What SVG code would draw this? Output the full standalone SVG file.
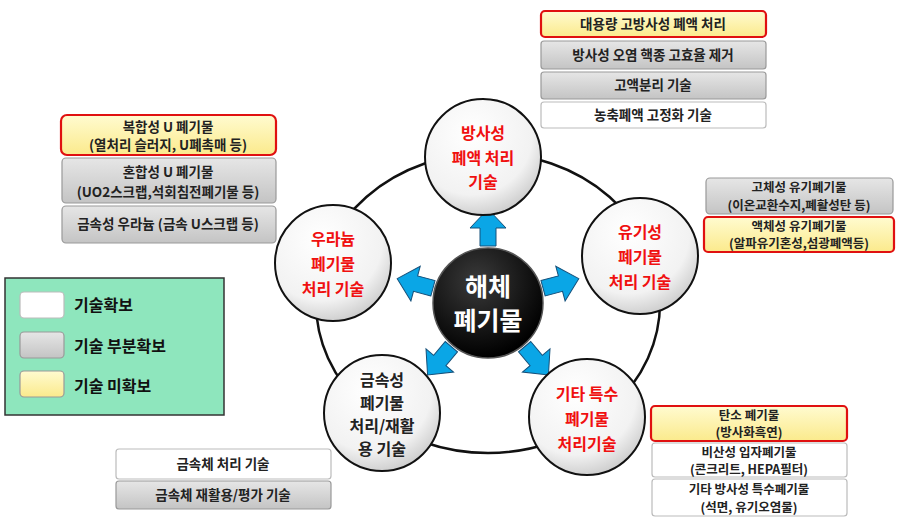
<svg xmlns="http://www.w3.org/2000/svg" width="900" height="524" viewBox="0 0 900 524">
<defs>
<radialGradient id="g" cx="40%" cy="30%" r="75%"><stop offset="0" stop-color="#ffffff"/><stop offset="0.7" stop-color="#f2f2f2"/><stop offset="1" stop-color="#c8c8c8"/></radialGradient>
<radialGradient id="b" cx="40%" cy="30%" r="70%"><stop offset="0" stop-color="#3a3a3a"/><stop offset="1" stop-color="#000"/></radialGradient>
<linearGradient id="gy" x1="0" y1="0" x2="0" y2="1"><stop offset="0" stop-color="#e6e6e6"/><stop offset="1" stop-color="#c4c4c4"/></linearGradient>
<linearGradient id="yl" x1="0" y1="0" x2="0" y2="1"><stop offset="0" stop-color="#fffbd0"/><stop offset="1" stop-color="#fbea8c"/></linearGradient>
<path id="arr" d="M-8,-57 L-8,-75 L-18,-75 L0,-94 L18,-75 L8,-75 L8,-57 Z"/>
</defs>
<style>
.t{font-family:"Noto Sans CJK KR","Noto Sans",sans-serif;font-weight:bold;font-size:13.5px;fill:#222;text-anchor:middle}
.s{font-size:12.5px}
.n{font-family:"Noto Sans CJK KR","Noto Sans",sans-serif;font-weight:bold;font-size:16px;fill:#f01010;text-anchor:middle}
.w{fill:#fff;stroke:#bbb;stroke-width:1.2}
.gr{fill:url(#gy);stroke:#999;stroke-width:1.2}
.y{fill:url(#yl);stroke:#e01010;stroke-width:2.2}
.c{fill:url(#g);stroke:#111;stroke-width:2}
.a{fill:#0aa6e6;stroke:#15507a;stroke-width:1}
.l{font-family:"Noto Sans CJK KR","Noto Sans",sans-serif;font-weight:bold;font-size:16px;fill:#111}
</style>
<rect width="900" height="524" fill="#fff"/>
<g id="connectors">
<ellipse cx="488" cy="303" rx="172" ry="150" fill="none" stroke="#111" stroke-width="2.5"/>
<g class="a" transform="translate(488,303)">
<use href="#arr"/>
<use href="#arr" transform="rotate(75)"/>
<use href="#arr" transform="rotate(-75)"/>
<use href="#arr" transform="rotate(140)"/>
<use href="#arr" transform="rotate(-140)"/>
</g>
</g>
<g id="center"><circle cx="488" cy="303" r="55" fill="url(#b)" stroke="#555" stroke-width="1.5"/>
<text x="488" y="296" style="font-family:'Noto Sans CJK KR',sans-serif;font-weight:bold;font-size:25px;fill:#fff;text-anchor:middle">해체</text>
<text x="488" y="330" style="font-family:'Noto Sans CJK KR',sans-serif;font-weight:bold;font-size:25px;fill:#fff;text-anchor:middle">폐기물</text></g>
<g id="n-top"><circle class="c" cx="483" cy="157" r="58"/>
<text class="n" x="483" y="139">방사성</text><text class="n" x="483" y="164">폐액 처리</text><text class="n" x="483" y="188">기술</text></g>
<g id="n-left"><circle class="c" cx="333" cy="263" r="58"/>
<text class="n" x="333" y="245">우라늄</text><text class="n" x="333" y="270">폐기물</text><text class="n" x="333" y="295">처리 기술</text></g>
<g id="n-right"><circle class="c" cx="640" cy="256" r="58"/>
<text class="n" x="640" y="238">유기성</text><text class="n" x="640" y="263">폐기물</text><text class="n" x="640" y="288">처리 기술</text></g>
<g id="n-bl"><circle class="c" cx="382" cy="413" r="58"/>
<text class="n" x="382" y="386" style="fill:#222">금속성</text><text class="n" x="382" y="409" style="fill:#222">폐기물</text><text class="n" x="382" y="432" style="fill:#222">처리/재활</text><text class="n" x="382" y="455" style="fill:#222">용 기술</text></g>
<g id="n-br"><circle class="c" cx="587" cy="417" r="58"/>
<text class="n" x="587" y="400">기타 특수</text><text class="n" x="587" y="425">폐기물</text><text class="n" x="587" y="450">처리기술</text></g>
<g id="box-top">
<rect class="y" x="541" y="11" width="225" height="26" rx="4"/><text class="t" x="653" y="29">대용량 고방사성 폐액 처리</text>
<rect class="gr" x="541" y="41" width="225" height="28" rx="3"/><text class="t" x="653" y="60">방사성 오염 핵종 고효율 제거</text>
<rect class="gr" x="541" y="72" width="225" height="27" rx="3"/><text class="t" x="653" y="90">고액분리 기술</text>
<rect class="w" x="541" y="102" width="225" height="26" rx="3"/><text class="t" x="653" y="120">농축폐액 고정화 기술</text>
</g>
<g id="box-left">
<rect class="y" x="61" y="115" width="215" height="40" rx="6"/><text class="t" x="168" y="132">복합성 U 폐기물</text><text class="t" x="168" y="150">(열처리 슬러지, U폐촉매 등)</text>
<rect class="gr" x="62" y="158" width="214" height="45" rx="4"/><text class="t" x="168" y="177">혼합성 U 폐기물</text><text class="t" x="168" y="197">(UO2스크랩,석회침전폐기물 등)</text>
<rect class="gr" x="62" y="206" width="214" height="37" rx="4"/><text class="t" x="168" y="229">금속성  우라늄 (금속 U스크랩 등)</text>
</g>
<g id="legend">
<rect x="5" y="278" width="219" height="137" fill="#8ee6bd" stroke="#333" stroke-width="1.5"/>
<rect class="w" x="20" y="292" width="44" height="26" rx="4"/><text class="l" x="74" y="311">기술확보</text>
<rect class="gr" x="20" y="332" width="44" height="26" rx="4"/><text class="l" x="74" y="352">기술 부분확보</text>
<rect class="gr" x="20" y="371" width="44" height="26" rx="4" style="fill:url(#yl)"/><text class="l" x="74" y="392">기술 미확보</text>
</g>
<g id="box-right">
<rect class="gr" x="706" y="178" width="187" height="36" rx="4"/><text class="t s" x="799" y="192">고체성 유기폐기물</text><text class="t s" x="799" y="210">(이온교환수지,폐활성탄 등)</text>
<rect class="y" x="704" y="217" width="190" height="35" rx="4"/><text class="t s" x="799" y="231">액체성 유기폐기물</text><text class="t s" x="799" y="248">(알파유기혼성,섬광폐액등)</text>
</g>
<g id="box-br">
<rect class="y" x="651" y="406" width="196" height="35" rx="4"/><text class="t s" x="749" y="420">탄소 폐기물</text><text class="t s" x="749" y="437">(방사화흑연)</text>
<rect class="w" x="652" y="443" width="195" height="34" rx="3"/><text class="t s" x="749" y="457">비산성 입자폐기물</text><text class="t s" x="749" y="474">(콘크리트, HEPA필터)</text>
<rect class="w" x="652" y="479" width="195" height="37" rx="3"/><text class="t s" x="749" y="494">기타 방사성 특수폐기물</text><text class="t s" x="749" y="512">(석면, 유기오염물)</text>
</g>
<g id="box-bl">
<rect class="w" x="116" y="449" width="215" height="30" rx="3"/><text class="t" x="223" y="469">금속체 처리 기술</text>
<rect class="gr" x="116" y="481" width="215" height="28" rx="3"/><text class="t" x="223" y="500">금속체 재활용/평가 기술</text>
</g>
</svg>
